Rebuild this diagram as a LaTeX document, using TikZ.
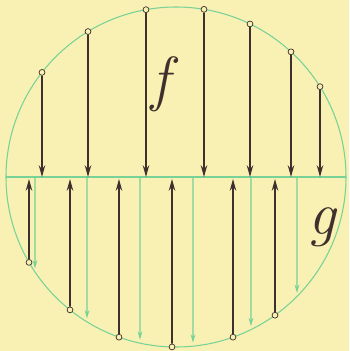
\documentclass[tikz,border=0pt]{standalone}
\usetikzlibrary{arrows.meta}
\definecolor{paper}{RGB}{249,240,180}
\definecolor{ringgreen}{RGB}{118,210,150}
\definecolor{inkdark}{RGB}{62,48,44}

\begin{document}
\begin{tikzpicture}[x=3cm, y=3cm,
    dot/.style={circle, draw=inkdark, fill=paper, line width=0.6pt,
                inner sep=0pt, minimum size=5pt},
    blk/.style={-{Stealth[length=10pt, width=5.5pt]}, line width=1.4pt, inkdark},
    grn/.style={-{Stealth[length=7pt, width=4pt]}, line width=0.9pt, ringgreen,
                shorten >=3pt},
    lbl/.style={font=\fontsize{52}{52}\selectfont\itshape, text=inkdark, inner sep=0pt}
  ]
  \fill[paper] (-1.76,-1.74) rectangle (1.73,1.77);
  \useasboundingbox (-1.76,-1.74) rectangle (1.73,1.77);
  % circle and diameter
  \coordinate (W) at (180:1.70);
  \coordinate (E) at (0:1.70);
  \draw[ringgreen, line width=0.9pt] (0,0) circle (1.70);
  \draw[ringgreen, line width=0.9pt] (W) -- (E);
  % upper arrows f
  \foreach \x [count=\i] in {-1.34,-0.88,-0.30,0.28,0.74,1.15,1.44} {
    \node[dot] (f\i) at ({acos(\x/1.7)}:1.70) {};
    \coordinate (fd\i) at (\x,0);
    \draw[blk] (f\i) -- (fd\i);
  }
  % lower arrows g
  \foreach \x [count=\i] in {-1.47,-1.06,-0.57,-0.04,0.57,0.99} {
    \node[dot] (g\i) at ({-acos(\x/1.7)}:1.70) {};
    \coordinate (gu\i) at (\x,-0.02);
    \draw[blk] (g\i) -- (gu\i);
  }
  % green arrows
  \foreach \x [count=\i] in {-1.41,-0.89,-0.36,0.17,0.75,1.21} {
    \coordinate (h\i) at (\x,0);
    \coordinate (hb\i) at ({-acos(\x/1.7)}:1.70);
    \draw[grn] (h\i) -- (hb\i);
  }
  \node[lbl] (flbl) at (-0.15,0.93) {f};
  \node[lbl] (glbl) at (1.46,-0.50) {g};
\end{tikzpicture}
\end{document}
